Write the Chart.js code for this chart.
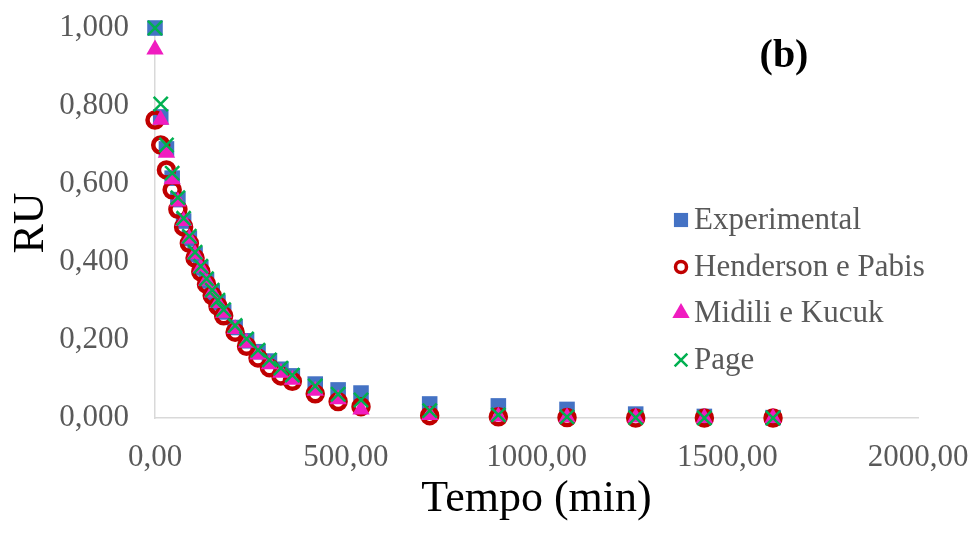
<!DOCTYPE html>
<html>
<head>
<meta charset="utf-8">
<script src="https://cdn.jsdelivr.net/npm/chart.js@4.4.1/dist/chart.umd.min.js"></script>
<style>
	html, body { margin: 0; padding: 0; background: #fff; }
	#wrap { position: relative; width: 970px; height: 535px; }
</style>
</head>
<body>
<div id="wrap"><canvas id="ru-chart" width="970" height="535"></canvas></div>
<script>
// tempo de secagem (min)
var tempo = [0, 15, 30, 45, 60, 75, 90, 105, 120, 135, 150, 165, 180, 210, 240, 270, 300, 330, 360, 420, 480, 540, 720, 900, 1080, 1260, 1440, 1620];

// razao de umidade
var experimental = [1.000, 0.772, 0.690, 0.615, 0.560, 0.505, 0.460, 0.420, 0.385, 0.352, 0.322, 0.296, 0.272, 0.232, 0.198, 0.170, 0.146, 0.125, 0.108, 0.087, 0.072, 0.064, 0.036, 0.031, 0.022, 0.010, 0.004, 0.001];
var henderson = [0.764, 0.700, 0.636, 0.585, 0.535, 0.490, 0.448, 0.410, 0.375, 0.343, 0.314, 0.287, 0.262, 0.220, 0.184, 0.154, 0.129, 0.108, 0.094, 0.062, 0.042, 0.029, 0.006, 0.003, 0.001, 0.000, 0.000, 0.000];
var midili = [0.945, 0.765, 0.680, 0.612, 0.555, 0.505, 0.460, 0.420, 0.385, 0.352, 0.322, 0.295, 0.270, 0.228, 0.193, 0.163, 0.138, 0.116, 0.098, 0.070, 0.048, 0.022, 0.008, 0.004, 0.002, 0.001, 0.000, 0.000];
var page = [1.000, 0.805, 0.700, 0.628, 0.565, 0.512, 0.466, 0.425, 0.389, 0.357, 0.328, 0.302, 0.278, 0.237, 0.203, 0.174, 0.149, 0.128, 0.110, 0.082, 0.061, 0.046, 0.019, 0.008, 0.003, 0.001, 0.000, 0.000];

var seriesNames = ['Experimental', 'Henderson e Pabis', 'Midili e Kucuk', 'Page'];
var xTicks = [0, 500, 1000, 1500, 2000];
var yTicks = [0, 0.2, 0.4, 0.6, 0.8, 1.0];

var SERIF = '"Liberation Serif", "DejaVu Serif", serif';

function toPoints(values){
	return values.map(function(v, i){ return { x: tempo[i], y: v }; });
}

function comma(v, d){
	return v.toFixed(d).replace('.', ',');
}

// legenda desenhada dentro da area do grafico, como no original
var insideLegend = {
	id: 'insideLegend',
	afterDraw: function(chart){
		var ctx = chart.ctx;
		var rows = [220, 267, 313, 360];
		ctx.save();
		chart.data.datasets.forEach(function(ds, i){
			var y = rows[i];
			var opts = ds.legendMarker;
			ctx.fillStyle = ds.pointBackgroundColor;
			ctx.strokeStyle = ds.pointBorderColor;
			ctx.lineWidth = opts.borderWidth;
			Chart.helpers.drawPoint(ctx, opts, 681, y);
			ctx.fillStyle = '#595959';
			ctx.font = '31px ' + SERIF;
			ctx.textAlign = 'left';
			ctx.textBaseline = 'middle';
			ctx.fillText(ds.label, 694, y + 1);
		});
		ctx.fillStyle = '#000';
		ctx.font = 'bold 40px ' + SERIF;
		ctx.textAlign = 'center';
		ctx.textBaseline = 'middle';
		ctx.fillText('(b)', 784, 57);
		ctx.restore();
	}
};

var config = {
	type: 'scatter',
	data: {
		datasets: [
			{
				label: seriesNames[0],
				data: toPoints(experimental),
				pointStyle: 'rect',
				pointRadius: 11,
				pointBackgroundColor: '#4472C4',
				pointBorderColor: '#4472C4',
				pointBorderWidth: 0,
				order: 4,
				legendMarker: { pointStyle: 'rect', radius: 10, borderWidth: 0 }
			},
			{
				label: seriesNames[1],
				data: toPoints(henderson),
				pointStyle: 'circle',
				pointRadius: 7.5,
				pointBackgroundColor: 'rgba(0,0,0,0)',
				pointBorderColor: '#C00000',
				pointBorderWidth: 4.5,
				order: 3,
				legendMarker: { pointStyle: 'circle', radius: 5.5, borderWidth: 3.5 }
			},
			{
				label: seriesNames[2],
				data: toPoints(midili),
				pointStyle: 'triangle',
				pointRadius: 10,
				pointBackgroundColor: '#F01CC0',
				pointBorderColor: '#F01CC0',
				pointBorderWidth: 0,
				order: 2,
				legendMarker: { pointStyle: 'triangle', radius: 10, borderWidth: 0 }
			},
			{
				label: seriesNames[3],
				data: toPoints(page),
				pointStyle: 'crossRot',
				pointRadius: 10,
				pointBackgroundColor: '#00B050',
				pointBorderColor: '#00B050',
				pointBorderWidth: 2.5,
				order: 1,
				legendMarker: { pointStyle: 'crossRot', radius: 9, borderWidth: 2.5 }
			}
		]
	},
	options: {
		responsive: false,
		animation: false,
		clip: false,
		layout: { padding: { left: 5, right: 52, top: 28, bottom: 7 } },
		plugins: {
			legend: { display: false },
			tooltip: { enabled: false }
		},
		scales: {
			x: {
				type: 'linear',
				min: 0,
				max: 2000,
				afterBuildTicks: function(scale){
					scale.ticks = xTicks.map(function(v){ return { value: v }; });
				},
				afterFit: function(scale){
					scale.height = 110;
					scale.paddingLeft = 0;
					scale.paddingRight = 0;
				},
				grid: { display: false, drawTicks: false },
				border: { display: true, color: '#D9D9D9', width: 1.5 },
				ticks: {
					padding: 21,
					maxRotation: 0,
					color: '#595959',
					font: { family: SERIF, size: 31 },
					callback: function(v){ return comma(v, 2); }
				},
				title: {
					display: true,
					text: 'Tempo (min)',
					color: '#000',
					font: { family: SERIF, size: 44 },
					padding: { top: 0, bottom: 2 }
				}
			},
			y: {
				type: 'linear',
				min: 0,
				max: 1,
				afterBuildTicks: function(scale){
					scale.ticks = yTicks.map(function(v){ return { value: v }; });
				},
				afterFit: function(scale){
					scale.width = 150;
					scale.paddingTop = 0;
					scale.paddingBottom = 0;
				},
				grid: { display: false, drawTicks: false },
				border: { display: true, color: '#D9D9D9', width: 1.5 },
				ticks: {
					padding: 26,
					color: '#595959',
					font: { family: SERIF, size: 31 },
					callback: function(v){ return comma(v, 3); }
				},
				title: {
					display: true,
					text: 'RU',
					color: '#000',
					font: { family: SERIF, size: 44 },
					padding: { top: 0, bottom: 0 }
				}
			}
		}
	},
	plugins: [insideLegend]
};

var ruChart = new Chart(document.getElementById('ru-chart'), config);
</script>
</body>
</html>
